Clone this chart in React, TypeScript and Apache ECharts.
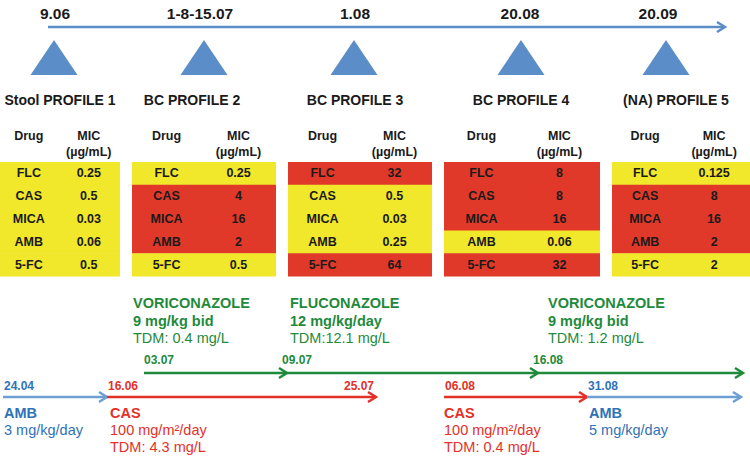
import React, { useEffect, useRef } from "react";
import * as echarts from "echarts";

// ---------- DATA ----------
const sampleDates = ["9.06", "1-8-15.07", "1.08", "20.08", "20.09"];
const profileNames = ["Stool PROFILE 1", "BC PROFILE 2", "BC PROFILE 3", "BC PROFILE 4", "(NA) PROFILE 5"];
const drugs = ["FLC", "CAS", "MICA", "AMB", "5-FC"];
const micP1 = ["0.25", "0.5", "0.03", "0.06", "0.5"];
const micP2 = ["0.25", "4", "16", "2", "0.5"];
const micP3 = ["32", "0.5", "0.03", "0.25", "64"];
const micP4 = ["8", "8", "16", "0.06", "32"];
const micP5 = ["0.125", "8", "16", "2", "2"];
const statusP1 = ["S", "S", "S", "S", "S"];
const statusP2 = ["S", "R", "R", "R", "S"];
const statusP3 = ["R", "S", "S", "S", "R"];
const statusP4 = ["R", "R", "R", "S", "R"];
const statusP5 = ["S", "R", "R", "R", "S"];

const azoleDrugs = ["VORICONAZOLE", "FLUCONAZOLE", "VORICONAZOLE"];
const azoleDoses = ["9 mg/kg bid", "12 mg/kg/day", "9 mg/kg bid"];
const azoleTdm = ["TDM: 0.4 mg/L", "TDM:12.1 mg/L", "TDM: 1.2 mg/L"];
const azoleStart = ["03.07", "09.07", "16.08"];
const azoleEnd = ["09.07", "16.08", ""];

const otherDrugs = ["AMB", "CAS", "CAS", "AMB"];
const otherDoses = ["3 mg/kg/day", "100 mg/m²/day", "100 mg/m²/day", "5 mg/kg/day"];
const otherTdm = ["", "TDM: 4.3 mg/L", "TDM: 0.4 mg/L", ""];
const otherStart = ["24.04", "16.06", "06.08", "31.08"];
const otherEnd = ["16.06", "25.07", "31.08", ""];

const mics = [micP1, micP2, micP3, micP4, micP5];
const statuses = [statusP1, statusP2, statusP3, statusP4, statusP5];

// ---------- LAYOUT (diagram units = px) ----------
const W = 750;
const H = 457;
const profileX = [54, 204, 354, 521, 666];
const dateLabelX = [55, 200, 355, 520, 658];
const titleX = [60, 192, 355, 521, 676];
const tableLeft = [0, 132, 288, 444, 612];
const tableRight = [120, 276, 432, 600, 750];
const dateX: Record<string, number> = {
  "24.04": 3, "16.06": 107, "03.07": 144, "09.07": 287, "25.07": 376,
  "06.08": 444, "16.08": 538, "31.08": 587, "": 743,
};
const azoleTextX = [133, 290, 548];
const otherTextX = [4, 110, 444, 589];

// ---------- STYLE ----------
const FONT = "'Liberation Sans', Arial, Helvetica, sans-serif";
const TL_BLUE = "#5b8ec8";
const YELLOW = "#f1e72b";
const RED_CELL = "#e0392a";
const GREEN = "#1f8a3c";
const RED = "#e3312a";
const BLUE_TXT = "#2f72b8";
const BLUE_ARROW = "#6d9fd3";
const CELL_TXT = "#1a1a1a";
const drugColor: Record<string, { text: string; line: string }> = {
  AMB: { text: BLUE_TXT, line: BLUE_ARROW },
  CAS: { text: RED, line: RED },
};

function txt(x: number, y: number, text: string, size: number, weight: string, fill: string, align = "left") {
  return {
    type: "text",
    x, y,
    style: { text, fill, fontSize: size, fontWeight: weight, fontFamily: FONT, align, verticalAlign: "middle" },
  };
}

function arrow(p1: number[], p2: number[], color: string, width: number) {
  return [
    { type: "line", shape: { x1: p1[0], y1: p1[1], x2: p2[0] - 1, y2: p2[1] }, style: { stroke: color, lineWidth: width } },
    {
      type: "polyline",
      shape: { points: [[p2[0] - 8, p2[1] - 5], [p2[0], p2[1]], [p2[0] - 8, p2[1] + 5]] },
      style: { stroke: color, lineWidth: width, fill: "none", lineJoin: "miter" },
    },
  ];
}

export default function App() {
  const ref = useRef<HTMLDivElement>(null);
  useEffect(() => {
    if (!ref.current) return;
    const chart = echarts.init(ref.current, undefined, { renderer: "svg", width: W, height: H });

    const tableCells: number[][] = [];
    for (let p = 0; p < 5; p++) for (let r = 0; r < drugs.length; r++) tableCells.push([p, r]);

    const option: any = {
      animation: false,
      backgroundColor: "#ffffff",
      grid: { left: 0, right: 0, top: 0, bottom: 0 },
      xAxis: { type: "value", min: 0, max: W, show: false },
      yAxis: { type: "value", min: 0, max: H, inverse: true, show: false },
      series: [
        // top timeline
        {
          type: "custom",
          silent: true,
          data: [[48, 725]],
          renderItem: (params: any, api: any) => {
            const a = api.coord([api.value(0), 27]);
            const b = api.coord([api.value(1), 27]);
            return { type: "group", children: arrow(a, b, TL_BLUE, 2.5) };
          },
        },
        // sampling date labels & profile titles
        {
          type: "custom",
          silent: true,
          data: sampleDates.map((_, i) => [i]),
          renderItem: (params: any, api: any) => {
            const i = api.value(0);
            const d = api.coord([dateLabelX[i], 13]);
            const t = api.coord([titleX[i], 100]);
            return {
              type: "group",
              children: [
                txt(d[0], d[1], sampleDates[i], 15.5, "bold", "#1a1a1a", "center"),
                txt(t[0], t[1], profileNames[i], 14, "bold", "#1a1a1a", "center"),
              ],
            };
          },
        },
        // triangles
        {
          type: "scatter",
          silent: true,
          symbol: "triangle",
          symbolSize: [47, 35],
          itemStyle: { color: TL_BLUE, opacity: 1 },
          data: sampleDates.map((_, i) => [profileX[i], 57.5]),
        },
        // table headers
        {
          type: "custom",
          silent: true,
          data: sampleDates.map((_, i) => [i]),
          renderItem: (params: any, api: any) => {
            const p = api.value(0);
            const w = tableRight[p] - tableLeft[p];
            const dx = tableLeft[p] + w * 0.24;
            const mx = tableLeft[p] + w * 0.74;
            const a = api.coord([dx, 136]);
            const b = api.coord([mx, 136]);
            const c = api.coord([mx, 152]);
            return {
              type: "group",
              children: [
                txt(a[0], a[1], "Drug", 12.5, "bold", CELL_TXT, "center"),
                txt(b[0], b[1], "MIC", 12.5, "bold", CELL_TXT, "center"),
                txt(c[0], c[1], "(µg/mL)", 12.5, "bold", CELL_TXT, "center"),
              ],
            };
          },
        },
        // table cells
        {
          type: "custom",
          silent: true,
          data: tableCells,
          renderItem: (params: any, api: any) => {
            const p = api.value(0);
            const r = api.value(1);
            const top = 162, rowH = 22.8;
            const tl = api.coord([tableLeft[p], top + r * rowH]);
            const br = api.coord([tableRight[p], top + (r + 1) * rowH]);
            const w = tableRight[p] - tableLeft[p];
            const cy = top + (r + 0.5) * rowH;
            const a = api.coord([tableLeft[p] + w * 0.24, cy]);
            const b = api.coord([tableLeft[p] + w * 0.74, cy]);
            const fill = statuses[p][r] === "R" ? RED_CELL : YELLOW;
            return {
              type: "group",
              children: [
                { type: "rect", shape: { x: tl[0], y: tl[1], width: br[0] - tl[0], height: br[1] - tl[1] + 0.5 }, style: { fill } },
                txt(a[0], a[1], drugs[r], 12.5, "bold", CELL_TXT, "center"),
                txt(b[0], b[1], mics[p][r], 12.5, "bold", CELL_TXT, "center"),
              ],
            };
          },
        },
        // azole treatments (green)
        {
          type: "custom",
          silent: true,
          data: azoleDrugs.map((_, i) => [i]),
          renderItem: (params: any, api: any) => {
            const i = api.value(0);
            const x1 = dateX[azoleStart[i]];
            const x2 = dateX[azoleEnd[i]];
            const a = api.coord([x1, 373]);
            const b = api.coord([x2, 373]);
            const lbl = api.coord([x1 - (i === 0 ? 0 : 5), 360]);
            const tx = azoleTextX[i];
            const t1 = api.coord([tx, 303]);
            const t2 = api.coord([tx, 320.5]);
            const t3 = api.coord([tx, 338]);
            return {
              type: "group",
              children: [
                ...arrow(a, b, GREEN, 2.5),
                txt(lbl[0], lbl[1], azoleStart[i], 12, "bold", GREEN),
                txt(t1[0], t1[1], azoleDrugs[i], 14.5, "bold", GREEN),
                txt(t2[0], t2[1], azoleDoses[i], 14.5, "bold", GREEN),
                txt(t3[0], t3[1], azoleTdm[i], 14.5, "normal", GREEN),
              ],
            };
          },
        },
        // other treatments (AMB blue, CAS red)
        {
          type: "custom",
          silent: true,
          data: otherDrugs.map((_, i) => [i]),
          renderItem: (params: any, api: any) => {
            const i = api.value(0);
            const col = drugColor[otherDrugs[i]];
            const x1 = dateX[otherStart[i]];
            const x2 = otherEnd[i] === "" ? 741 : dateX[otherEnd[i]];
            const a = api.coord([x1, 397]);
            const b = api.coord([x2, 397]);
            const lbl = api.coord([x1 + 1, 385.5]);
            const tx = otherTextX[i];
            const t1 = api.coord([tx, 413]);
            const t2 = api.coord([tx, 430]);
            const t3 = api.coord([tx, 447]);
            const children: any[] = [
              ...arrow(a, b, col.line, 2.5),
              txt(lbl[0], lbl[1], otherStart[i], 12, "bold", col.text),
              txt(t1[0], t1[1], otherDrugs[i], 14.5, "bold", col.text),
              txt(t2[0], t2[1], otherDoses[i], 14.5, "normal", col.text),
            ];
            if (otherTdm[i]) children.push(txt(t3[0], t3[1], otherTdm[i], 14.5, "normal", col.text));
            if (otherEnd[i] && (i + 1 >= otherStart.length || otherStart[i + 1] !== otherEnd[i])) {
              const e = api.coord([x2 - 2, 385.5]);
              children.push(txt(e[0], e[1], otherEnd[i], 12, "bold", col.text, "right"));
            }
            return { type: "group", children };
          },
        },
      ],
    };
    chart.setOption(option);
    return () => chart.dispose();
  }, []);
  return <div ref={ref} style={{ position: "fixed", left: 0, top: 0, width: W, height: H, background: "#fff" }} />;
}
